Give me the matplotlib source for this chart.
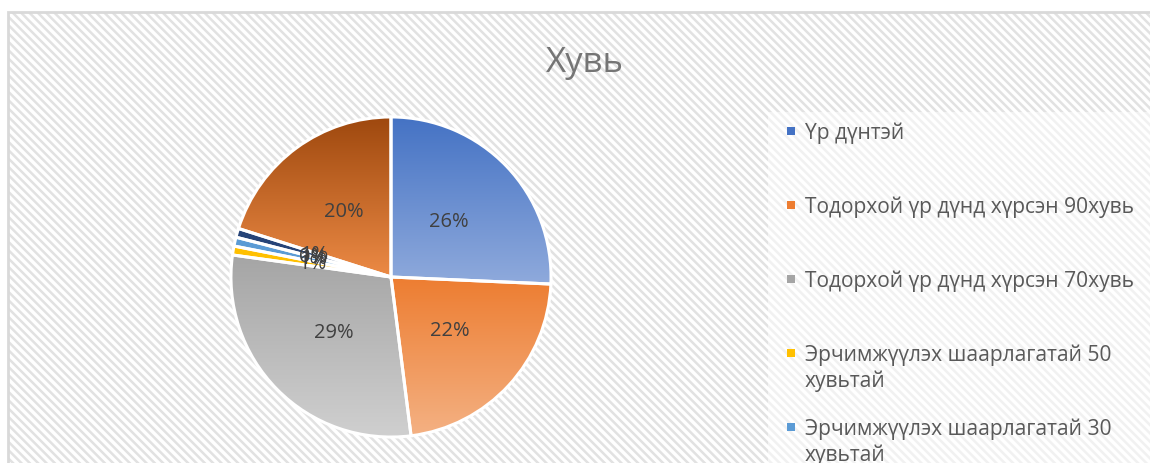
import textwrap
import numpy as np
import matplotlib
matplotlib.use("Agg")
import matplotlib.pyplot as plt
from matplotlib.patches import Rectangle
from matplotlib.colors import to_rgb

plt.rcParams['font.family'] = ['Open Sans', 'DejaVu Sans']
plt.rcParams['hatch.linewidth'] = 1.8

# ---- data ----
title = "Хувь"
categories = [
    "Үр дүнтэй",
    "Тодорхой үр дүнд хүрсэн 90хувь",
    "Тодорхой үр дүнд хүрсэн 70хувь",
    "Эрчимжүүлэх шаарлагатай 50 хувьтай",
    "Эрчимжүүлэх шаарлагатай 30 хувьтай",
    "Эрчимжүүлэх шаарлагатай 10 хувьтай",
    "Үр дүнгүй",
    "Бусад",
]
values = [25.7, 22.3, 29.2, 0.9, 0.9, 0.0, 0.9, 20.1]
top_colors = ["#4472C4", "#ED7D31", "#A5A5A5", "#FFC000", "#5B9BD5", "#70AD47", "#264478", "#9E480E"]
bottom_colors = ["#8FAADC", "#F4B183", "#D0D0D0", "#FFC000", "#5B9BD5", "#70AD47", "#264478", "#EC8A45"]

W, H = 1150, 463
fig = plt.figure(figsize=(W / 100, H / 100), dpi=100)
fig.patch.set_facecolor("white")

# chart area with diagonal pattern
bg = Rectangle((8 / W, 0), 1.2, (H - 12) / H, transform=fig.transFigure,
               facecolor="white", edgecolor="#E2E2E2", hatch="\\" * 4, linewidth=0, zorder=0)
fig.patches.append(bg)
frame = Rectangle((8 / W, -0.05), 1.2, (H - 12) / H + 0.05, transform=fig.transFigure,
                  facecolor="none", edgecolor="#D9D9D9", linewidth=2, zorder=0.5)
fig.patches.append(frame)

# legend area (whitish box)
lg = Rectangle((768 / W, -0.05), 1.2, (H - 112) / H + 0.05, transform=fig.transFigure,
               facecolor="white", alpha=0.55, edgecolor="none", zorder=1)
fig.patches.append(lg)

fig.text(585 / W, 1 - 63 / H, title, ha="center", va="center", fontsize=25, color="#757575")

# ---- pie ----
R = 165
ax = fig.add_axes([(391 - R) / W, (H - 277 - R) / H, 2 * R / W, 2 * R / H])
ax.set_zorder(2)
ax.patch.set_visible(False)
wedges, texts, autotexts = ax.pie(values, startangle=90, counterclock=False,
                                  colors=top_colors, autopct="%.0f%%", pctdistance=0.5,
                                  radius=0.97,
                                  wedgeprops=dict(edgecolor="white", linewidth=2.2),
                                  textprops=dict(color="#404040", fontsize=14.5))

# vertical gradient per slice
for w, c1, c2 in zip(wedges, top_colors, bottom_colors):
    if w.theta2 - w.theta1 < 0.01:
        continue
    verts = w.get_path().vertices
    ymin, ymax = verts[:, 1].min(), verts[:, 1].max()
    xmin, xmax = verts[:, 0].min(), verts[:, 0].max()
    a, b = np.array(to_rgb(c1)), np.array(to_rgb(c2))
    t = np.linspace(0, 1, 256)[:, None]
    grad = (a[None, :] * (1 - t) + b[None, :] * t)[:, None, :]
    im = ax.imshow(grad, extent=[xmin, xmax, ymin, ymax], origin="upper",
                   aspect="auto", zorder=1.5, interpolation="bilinear")
    im.set_clip_path(w)
    w.set_facecolor("none")
    w.set_zorder(2)
for t in autotexts:
    t.set_zorder(5)

ax.set_xlim(-1, 1)
ax.set_ylim(-1, 1)
ax.set_aspect("equal")
ax.axis("off")

# ---- legend (entries past the bottom edge are cut off, as in the original) ----
y0 = 131
for i, (name, col) in enumerate(zip(categories, top_colors)):
    y = y0 + i * 74
    if y - 11 > H:
        break
    lines = textwrap.wrap(name, 30)
    fig.patches.append(Rectangle((787 / W, 1 - (y + 4) / H), 8 / W, 8 / H,
                                 transform=fig.transFigure, facecolor=col,
                                 edgecolor="none", zorder=3))
    fig.text(805 / W, 1 - (y - 9) / H, "\n".join(lines), ha="left", va="top",
             fontsize=15.1, color="#595959", linespacing=1.33, zorder=3)

fig.savefig("out.png", dpi=100)
